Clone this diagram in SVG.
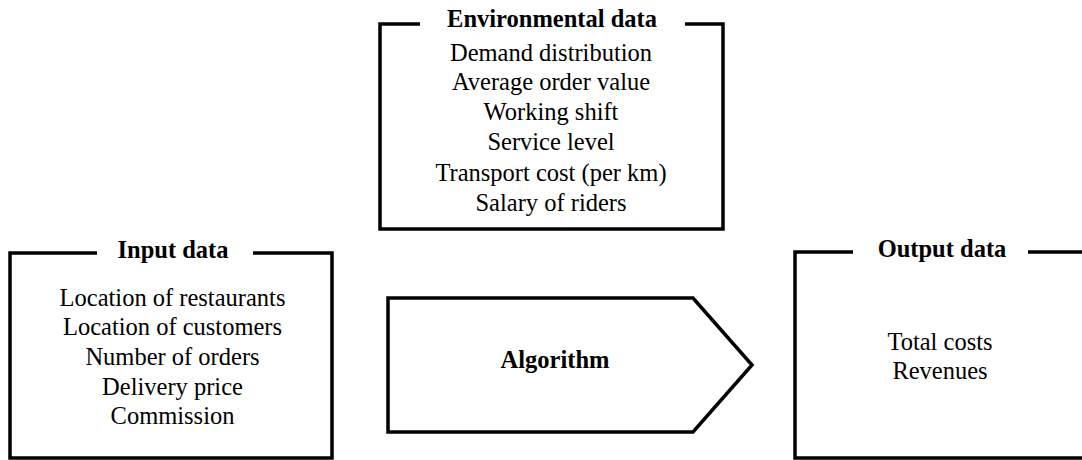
<svg xmlns="http://www.w3.org/2000/svg" width="1082" height="460" viewBox="0 0 1082 460">
<style>
.frame{fill:none;stroke:#000;stroke-width:3.5;stroke-linecap:butt;stroke-linejoin:miter}
.t{font-family:"Liberation Serif","Times New Roman",serif;font-size:24.5px;fill:#000;text-anchor:middle}
.b{font-weight:bold}
</style>
<rect width="1082" height="460" fill="#fff"/>
<g id="environmental">
<path class="frame" d="M420,24 H380 V229 H723 V24 H685"/>
<text class="t b" x="552" y="26.5">Environmental data</text>
<text class="t" x="551" y="60.5">Demand distribution</text>
<text class="t" x="551" y="90">Average order value</text>
<text class="t" x="551" y="119.5">Working shift</text>
<text class="t" x="551" y="149.5">Service level</text>
<text class="t" x="551" y="180.5">Transport cost (per km)</text>
<text class="t" x="551" y="211">Salary of riders</text>
</g>
<g id="input">
<path class="frame" d="M97,253 H10 V458 H332 V253 H253"/>
<text class="t b" x="173" y="258">Input data</text>
<text class="t" x="172.5" y="305.5">Location of restaurants</text>
<text class="t" x="172.5" y="335">Location of customers</text>
<text class="t" x="172.5" y="364.5">Number of orders</text>
<text class="t" x="172.5" y="394.5">Delivery price</text>
<text class="t" x="172.5" y="423.5">Commission</text>
</g>
<g id="algorithm">
<path class="frame" d="M388,298 H693 L752,365 L693,432 H388 Z"/>
<text class="t b" x="555" y="368">Algorithm</text>
</g>
<g id="output">
<path class="frame" d="M853,252 H795 V458 H1082 M1028,252 H1082"/>
<text class="t b" x="942" y="257">Output data</text>
<text class="t" x="940" y="350">Total costs</text>
<text class="t" x="940" y="379">Revenues</text>
</g>
<g id="connectors"></g>
</svg>
